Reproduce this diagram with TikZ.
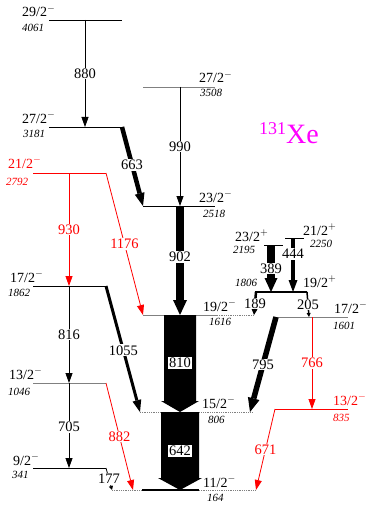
\documentclass[tikz,border=0pt]{standalone}
\usepackage{fontspec}
\setmainfont{Liberation Serif}
\usetikzlibrary{arrows.meta}
\definecolor{xemag}{RGB}{255,0,255}

\begin{document}
\begin{tikzpicture}[x=1pt, y=-1pt,
  lev/.style={line width=0.8pt},
  glev/.style={line width=0.8pt, gray},
  dlev/.style={line width=0.8pt, gray, densely dotted},
  spin/.style={font=\fontsize{14}{16}\selectfont, inner sep=0pt, anchor=base west},
  en/.style={font=\fontsize{11}{13}\selectfont\itshape, inner sep=0pt, anchor=base west},
  eg/.style={font=\fontsize{14.5}{16}\selectfont, fill=white, inner sep=1pt},
  gam/.style={line width=0.8pt, -{Triangle[length=10pt 0 0,width=7pt 0 0]}},
  fat/.style args={#1/#2/#3}{line width=#1, -{Triangle[length=#2 0 0,width=#3 0 0,line width=0pt]}}]
\useasboundingbox (0,0) rectangle (374,508);

\draw[lev] (49,20) coordinate (l4061) -- (122,20) coordinate (l4061r);
\draw[glev] (143,87) coordinate (l3508) -- (215,87) coordinate (l3508r);
\draw[lev] (49,127) coordinate (l3181) -- (122,127) coordinate (l3181r);
\draw[lev, red] (33,173) coordinate (l2792) -- (106,173) coordinate (l2792r);
\draw[lev] (143,206) coordinate (l2518) -- (215,206) coordinate (l2518r);
\draw[lev] (285,238) coordinate (l2250) -- (304,238) coordinate (l2250r);
\draw[lev] (264,245) coordinate (l2195) -- (283,245) coordinate (l2195r);
\draw[lev] (33,286) coordinate (l1862) -- (106,286) coordinate (l1862r);
\draw[line width=2.5pt] (255,292) coordinate (l1806) -- (307,292) coordinate (l1806r);
\draw[glev] (143,315) coordinate (l1616) -- (217,315);
\draw[dlev] (217,315) -- (254,315) coordinate (l1616r);
\draw[glev] (273,317) coordinate (l1601) -- (348,317) coordinate (l1601r);
\draw[glev] (33,383) coordinate (l1046) -- (106,383) coordinate (l1046r);
\draw[lev, red] (275,409) coordinate (l835) -- (348,409) coordinate (l835r);
\draw[dlev] (140,412) coordinate (l806) -- (252,412) coordinate (l806r);
\draw[lev] (33,468) coordinate (l341) -- (106,468) coordinate (l341r);
\draw[line width=2.5pt] (142,490) -- (199,490);
\draw[dlev] (112,490) coordinate (l164) -- (142,490);
\draw[dlev] (199,490) -- (256,490) coordinate (l164r);

\node[spin] (s4061) at (22,17) {29/2$^-$};
\node[en] (e4061) at (22,32) {4061};
\node[spin] (s3508) at (199,83) {27/2$^-$};
\node[en] (e3508) at (200,96) {3508};
\node[spin] (s3181) at (22,123) {27/2$^-$};
\node[en] (e3181) at (23,137) {3181};
\node[spin, red] (s2792) at (8,168) {21/2$^-$};
\node[en, red] (e2792) at (6,185) {2792};
\node[spin] (s2518) at (199,202) {23/2$^-$};
\node[en] (e2518) at (203,217) {2518};
\node[spin] (s2250) at (303,235) {21/2$^+$};
\node[en] (e2250) at (310,247) {2250};
\node[spin] (s2195) at (235,241) {23/2$^+$};
\node[en] (e2195) at (233,253) {2195};
\node[spin] (s1862) at (10,282) {17/2$^-$};
\node[en] (e1862) at (8,296) {1862};
\node[spin] (s1806) at (303,287) {19/2$^+$};
\node[en] (e1806) at (235,286) {1806};
\node[spin] (s1616) at (203,311) {19/2$^-$};
\node[en] (e1616) at (209,325) {1616};
\node[spin] (s1601) at (334,313) {17/2$^-$};
\node[en] (e1601) at (333,329) {1601};
\node[spin] (s1046) at (9,379) {13/2$^-$};
\node[en] (e1046) at (8,395) {1046};
\node[spin, red] (s835) at (333,405) {13/2$^-$};
\node[en, red] (e835) at (333,421) {835};
\node[spin] (s806) at (202,408) {15/2$^-$};
\node[en] (e806) at (208,423) {806};
\node[spin] (s341) at (13,465) {9/2$^-$};
\node[en] (e341) at (12,478) {341};
\node[spin] (s164) at (203,487) {11/2$^-$};
\node[en] (e164) at (207,501) {164};

\node[text=xemag, inner sep=0pt, anchor=base west] (xe) at (259,143)
  {{\fontsize{18}{18}\selectfont\raisebox{9pt}{131}}{\fontsize{28}{30}\selectfont Xe}};

\draw[gam] ([xshift=36pt]l4061) -- ([xshift=36pt]l3181) node[eg, midway] (t880) {880};
\draw[gam] ([xshift=37pt]l3508) -- ([xshift=37pt]l2518) node[eg, midway] (t990) {990};
\draw[fat=4.5pt/13pt/10pt] (l3181r) -- (l2518) node[eg, pos=0.48] (t663) {663};
\draw[gam, red] ([xshift=36pt]l2792) -- ([xshift=36pt]l1862) node[eg, text=red, midway] (t930) {930};
\draw[gam, red] (l2792r) -- (l1616) node[eg, text=red, midway] (t1176) {1176};
\draw[fat=8pt/15pt/14pt] ([xshift=37pt]l2518) -- ([xshift=37pt]l1616) node[eg, pos=0.47] (t902) {902};
\draw[gam] ([xshift=36pt]l1862) -- ([xshift=36pt]l1046) node[eg, midway] (t816) {816};
\draw[fat=3pt/12pt/9pt] (l1862r) -- (l806) node[eg, pos=0.51] (t1055) {1055};
\path ([xshift=37pt]l1616) coordinate (g810a) ([xshift=40pt]l806) coordinate (g810b);
\fill (g810a) ++(-16,0) -- ++(32,0) -- ([shift={(16,-11)}]g810b) -- ([shift={(19,-11)}]g810b)
  -- (g810b) -- ([shift={(-19,-11)}]g810b) -- ([shift={(-16,-11)}]g810b) -- cycle;
\node[eg] (t810) at ([yshift=-48pt]g810a) {810};
\draw[gam] ([xshift=36pt]l1046) -- ([xshift=36pt]l341) node[eg, pos=0.52] (t705) {705};
\draw[line width=0.8pt, -{Triangle[length=4pt 0 0,width=4pt 0 0]}] (l341r) -- (l164) node[eg, pos=0.5] (t177) {177};
\draw[gam, red] (l1046r) -- ([xshift=21pt]l164) node[eg, text=red, midway] (t882) {882};
\path (g810b) coordinate (g642a) ([xshift=68pt]l164) coordinate (g642b);
\fill (g642a) ++(-19,0) -- ++(38,0) -- ([shift={(19,-12)}]g642b) -- ([shift={(22,-12)}]g642b)
  -- (g642b) -- ([shift={(-22,-12)}]g642b) -- ([shift={(-19,-12)}]g642b) -- cycle;
\node[eg] (t642) at ([yshift=-39pt]g642a) {642};
\draw[fat=5.5pt/14pt/12pt] ([xshift=3pt]l1601) -- ([xshift=-2pt]l806r) node[eg, midway] (t795) {795};
\draw[gam, red] ([xshift=39pt]l1601) -- ([xshift=37pt]l835) node[eg, text=red, midway] (t766) {766};
\draw[gam, red] (l835) -- (l164r) node[eg, text=red, midway] (t671) {671};
\draw[fat=2.5pt/6pt/6pt] ([xshift=1pt]l1806) -- (l1616r) node[eg, midway] (t189) {189};
\draw[fat=1.5pt/4pt/4pt] (l1806r) -- ([xshift=36pt]l1601) node[eg, midway] (t205) {205};
\draw[fat=8pt/14pt/13pt] ([xshift=7pt]l2195) -- ([xshift=16pt]l1806) node[eg, pos=0.5] (t389) {389};
\draw[fat=4pt/12pt/9pt] ([xshift=8pt]l2250) -- ([xshift=38pt]l1806) node[eg, pos=0.3] (t444) {444};
\end{tikzpicture}
\end{document}
